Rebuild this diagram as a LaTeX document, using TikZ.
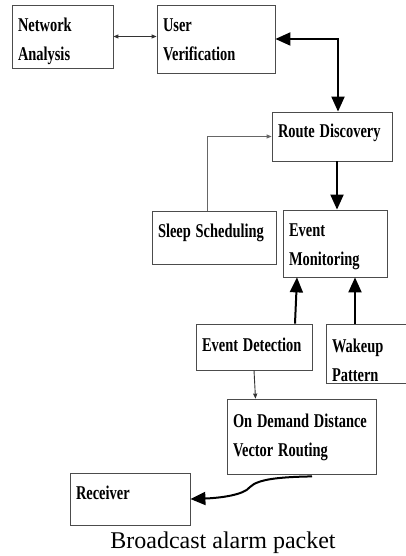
\documentclass[tikz,border=0pt]{standalone}
\usepackage{fontspec}
\usepackage{graphicx}
\setmainfont{Liberation Serif}
\newcommand{\sqz}[1]{\scalebox{0.74}[1]{#1}}
\usetikzlibrary{arrows.meta, calc, positioning}

\begin{document}
\begin{tikzpicture}[
    x=1pt, y=1pt,
    box/.style={draw=black!70, line width=0.8pt, align=left, inner xsep=6pt, inner ysep=0pt,
        text height=10pt, font=\bfseries\fontsize{19.5}{29}\selectfont},
    thinlink/.style={line width=0.9pt, black!80},
    thicklink/.style={line width=2pt, black},
    bighead/.style={-{Triangle[length=15pt,width=13pt]}},
    smallhead/.tip={Triangle[length=5pt,width=4pt]}
]
\useasboundingbox (0,0) rectangle (406,556);
\clip (0,0) rectangle (406,556);
%
\node[box, text width=89pt, minimum height=63pt, text depth=19pt] (na) at (62.5,519.5) {\sqz{Network}\\\sqz{Analysis}};
\node[box, text width=106pt, minimum height=68pt, text depth=24pt] (uv) at (216,517) {\sqz{User}\\\sqz{Verification}};
\node[box, text width=108pt, minimum height=49pt, text depth=7pt] (rd) at (332,419.5) {\sqz{Route Discovery}};
\node[box, text width=112pt, minimum height=53pt, text depth=10pt] (ss) at (214,318.5) {\sqz{Sleep Scheduling}};
\node[box, text width=92pt, minimum height=67pt, text depth=23pt] (em) at (335,312.5) {\sqz{Event}\\\sqz{Monitoring}};
\node[box, text width=104pt, minimum height=46pt, text depth=0pt] (ed) at (254,209) {\sqz{Event Detection}};
\node[box, text width=88pt, minimum height=59pt, text depth=11pt] (wp) at (376,202.5) {\sqz{Wakeup}\\\sqz{Pattern}};
\node[box, text width=137pt, minimum height=75pt, text depth=27pt] (odv) at (301.5,119.5) {\sqz{On Demand Distance}\\\sqz{Vector Routing}};
\node[box, text width=108pt, minimum height=52pt, text depth=8pt] (rcv) at (130,57) {\sqz{Receiver}};
\node[anchor=base, font=\fontsize{24}{28}\selectfont] (cap) at (223,8) {Broadcast alarm packet};

%
\draw[thinlink, smallhead-smallhead] (na.east) -- (na.east -| uv.west);
\draw[thicklink, {Triangle[length=15pt,width=13pt]}-{Triangle[length=15pt,width=13pt]}]
    (uv.east) -| ([xshift=6pt]rd.north);
\draw[thinlink, black!60, -smallhead] ([xshift=-7pt]ss.north) |- (rd.west);
\draw[thicklink, bighead] ([xshift=5pt]rd.south) -- ([xshift=5pt]rd.south |- em.north);
\draw[thicklink, bighead] ([xshift=41pt]ed.north) -- ([xshift=-38pt]em.south);
\draw[thicklink, bighead] ([xshift=20pt]em.south |- wp.north) -- ([xshift=20pt]em.south);
\draw[thinlink, -smallhead] (ed.south) -- ([xshift=-46pt]odv.north);
\coordinate (bend) at ([xshift=10.5pt,yshift=-2pt]odv.south);
\draw[thicklink, bighead] (bend) .. controls (280,79) and (258,77) .. (250,69)
    .. controls (244,61) and (220,58) .. (rcv.east);
\end{tikzpicture}
\end{document}
